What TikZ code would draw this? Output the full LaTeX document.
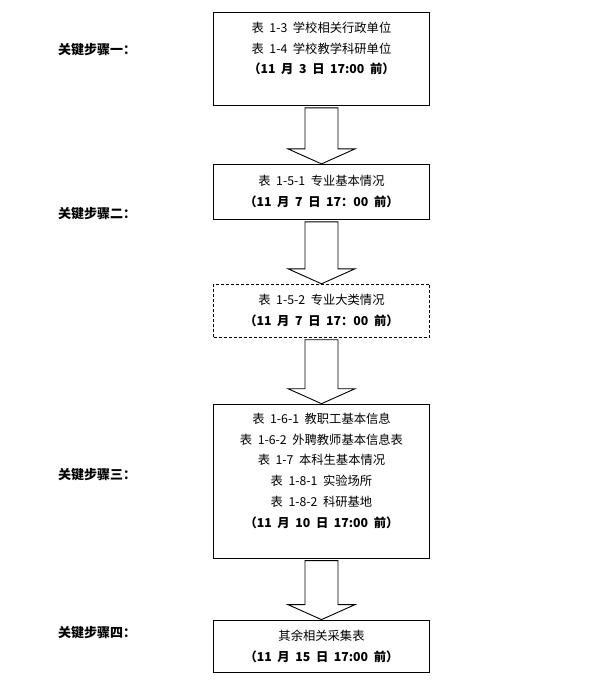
\documentclass[tikz,border=0pt]{standalone}
\usepackage{fontspec}
\setmainfont[WordSpace=2]{Noto Sans CJK SC}
\usetikzlibrary{positioning,calc}

% hollow block arrow from the bottom of one box to the top of the next
\newcommand{\hollowarrow}[2]{%
  \draw[hollow] ($(#1.south)+(-16.5,-2)$) -- ($(#2.north)+(-16.5,15)$)
    -- ($(#2.north)+(-33.5,15)$) -- (#2.north) -- ($(#2.north)+(33.5,15)$)
    -- ($(#2.north)+(16.5,15)$) -- ($(#1.south)+(16.5,-2)$) -- cycle;}

\begin{document}
\begin{tikzpicture}[
    x=1pt, y=1pt,
    every node/.style={font=\fontsize{12.3}{20.8}\selectfont},
    box/.style={draw, line width=0.9pt, align=center, minimum width=216pt, inner sep=3pt},
    dashbox/.style={box, dash pattern=on 3pt off 2pt},
    hollow/.style={draw, line width=0.9pt, fill=white},
    steplabel/.style={anchor=west, inner sep=0pt, font=\fontsize{13}{15}\selectfont\bfseries}
]
\useasboundingbox (0,0) rectangle (591,-680);

\node[box, anchor=north, minimum height=93pt, text depth=22pt] (tab3) at (321.5,-12)
  {表 1-3 学校相关行政单位\\表 1-4 学校教学科研单位\\\textbf{（11 月 3 日 17:00 前）}};
\node[box, below=58pt of tab3, minimum height=55pt] (tab51)
  {表 1-5-1 专业基本情况\\\textbf{（11 月 7 日 17：00 前）}};
\node[dashbox, below=64pt of tab51, minimum height=53pt] (tab52)
  {表 1-5-2 专业大类情况\\\textbf{（11 月 7 日 17：00 前）}};
\node[box, below=66pt of tab52, minimum height=154pt, text depth=22pt] (tab6)
  {表 1-6-1 教职工基本信息\\表 1-6-2 外聘教师基本信息表\\表 1-7 本科生基本情况\\表 1-8-1 实验场所\\表 1-8-2 科研基地\\\textbf{（11 月 10 日 17:00 前）}};
\node[box, below=61pt of tab6, minimum height=52pt] (rest)
  {其余相关采集表\\\textbf{（11 月 15 日 17:00 前）}};

\hollowarrow{tab3}{tab51}
\hollowarrow{tab51}{tab52}
\hollowarrow{tab52}{tab6}
\hollowarrow{tab6}{rest}

\node[steplabel] (step1) at (58,-50) {关键步骤一：};
\node[steplabel] (step2) at (58,-214) {关键步骤二：};
\node[steplabel] (step3) at (58,-475) {关键步骤三：};
\node[steplabel] (step4) at (58,-633) {关键步骤四：};
\end{tikzpicture}
\end{document}
